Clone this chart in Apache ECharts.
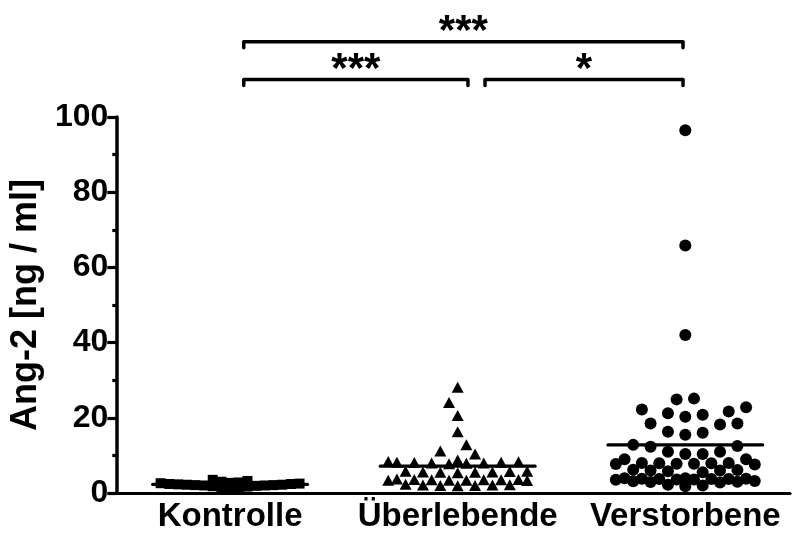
<!DOCTYPE html>
<html>
<head>
<meta charset="utf-8">
<script src="https://cdn.jsdelivr.net/npm/echarts@6/dist/echarts.min.js"></script>
<style>
  html, body { margin: 0; padding: 0; background: #fff; }
  #chart { width: 795px; height: 533px; }
</style>
</head>
<body>
<div id="chart"></div>
<script>
// Groups on the x axis
const groups = ['Kontrolle', 'Überlebende', 'Verstorbene'];

// Ang-2 concentrations per patient (ng/ml)
const kontrolle = [3.5, 3.0, 2.8, 2.6, 2.5, 2.4, 2.3, 2.2, 2.2, 2.1, 2.0,
                   2.0, 1.9, 1.8, 1.7, 1.6, 2.7, 3.2, 2.4, 2.1, 1.5, 1.4];
const ueberlebende = [28.1, 24.1, 20.6, 16.3, 12.8, 11.2, 10.4, 8.8,
                      8.2, 8.0, 8.3, 7.9, 8.1, 8.0, 8.2, 7.8, 8.4,
                      5.8, 5.5, 5.6, 5.4, 5.7, 5.6, 5.5, 5.8,
                      3.6, 3.4, 3.5, 3.7, 3.3, 3.5, 3.6, 3.4, 3.5, 3.4,
                      2.2, 2.0, 2.1, 1.9, 2.3, 2.0, 2.1];
const verstorbene = [96.5, 65.8, 42.0,
                     25.1, 24.9, 22.8, 22.2, 21.7, 21.2, 20.8, 20.3,
                     18.5, 18.5, 18.2, 16.3, 16.0, 15.5,
                     12.8, 12.5, 12.3, 11.0, 11.0, 10.4, 10.4, 9.0, 9.0,
                     8.0, 7.9, 7.8, 7.7, 7.8, 7.9, 8.0, 7.6,
                     6.2, 6.0, 6.1, 5.8, 6.0, 5.5,
                     3.8, 3.7, 3.6, 3.9, 3.7, 3.8, 3.6, 3.7, 3.5, 3.9,
                     3.0, 2.8, 3.1, 2.9, 3.2,
                     2.0, 1.8, 2.2];

// y axis ticks
const yTicks = [0, 20, 40, 60, 80, 100];

// Significance brackets between groups
const bracketLabels = ['***', '***', '*'];
const bracketPairs = [[0, 2], [0, 1], [1, 2]];

// ---- layout ---------------------------------------------------------------
const GRID = { left: 115, right: 5, top: 117, bottom: 40 };
const X_MIN = -0.5, X_MAX = 2.46;
const PX_PER_X = (795 - GRID.left - GRID.right) / (X_MAX - X_MIN);
const PX_PER_Y = (533 - GRID.top - GRID.bottom) / (yTicks[yTicks.length - 1] - yTicks[0]);
const FONT = '"Liberation Sans", Arial, sans-serif';

// bracket geometry: x extents (axis units), height (value units)
const bracketGeom = [
  { x0: 0.06, x1: 1.99, y: 120 },
  { x0: 0.06, x1: 1.045, y: 110 },
  { x0: 1.12, x1: 1.99, y: 110 }
];

// Spread points of one group sideways so that markers do not pile up.
// Vertical distances are shrunk by yFactor so that nearby values sit side by side.
function swarm(values, centre, opt) {
  const order = values.map((v, i) => i).sort((a, b) => values[a] - values[b]);
  const placed = [];
  const out = new Array(values.length);
  let flip = 1;
  order.forEach(i => {
    const py = values[i] * PX_PER_Y;
    let chosen = null, bestX = 0, bestD = -1;
    for (let k = 0; k <= opt.maxSteps && chosen === null; k++) {
      const signs = k === 0 ? [1] : [flip, -flip];
      for (const s of signs) {
        const px = s * k * opt.step;
        let minD = Infinity;
        for (const p of placed) {
          const d = Math.hypot(p.x - px, (p.y - py) / opt.yFactor);
          if (d < minD) minD = d;
        }
        if (minD >= opt.minDist) { chosen = px; break; }
        if (minD > bestD) { bestD = minD; bestX = px; }
      }
    }
    if (chosen === null) chosen = bestX;
    if (chosen !== 0) flip = -Math.sign(chosen);
    placed.push({ x: chosen, y: py });
    out[i] = [centre + chosen / PX_PER_X, values[i]];
  });
  return out;
}

const mean = arr => arr.reduce((a, b) => a + b, 0) / arr.length;
const groupValues = [kontrolle, ueberlebende, verstorbene];
const means = groupValues.map(mean);

const chart = echarts.init(document.getElementById('chart'), null, { renderer: 'canvas' });

const pointSeries = [
  { vals: kontrolle, symbol: 'rect', size: 10, opt: { step: 8.7, minDist: 8.5, maxSteps: 8, yFactor: 1.3 } },
  { vals: ueberlebende, symbol: 'triangle', size: [12, 11], opt: { step: 8.7, minDist: 10, maxSteps: 8, yFactor: 1.6 } },
  { vals: verstorbene, symbol: 'circle', size: 12, opt: { step: 8.7, minDist: 11, maxSteps: 8, yFactor: 1.6 } }
].map((g, gi) => ({
  type: 'scatter',
  name: groups[gi],
  symbol: g.symbol,
  symbolSize: g.size,
  itemStyle: { color: '#000', opacity: 1 },
  data: swarm(g.vals, gi, g.opt),
  z: 2,
  silent: true
}));

const meanSeries = {
  type: 'custom',
  name: 'Mittelwert',
  data: means.map((m, i) => [i, m]),
  renderItem: (params, api) => {
    const i = api.value(0), m = api.value(1);
    const a = api.coord([i - 0.34, m]);
    const b = api.coord([i + 0.34, m]);
    return {
      type: 'line',
      shape: { x1: a[0], y1: a[1], x2: b[0], y2: b[1] },
      style: { stroke: '#000', lineWidth: 3.2, lineCap: 'round' }
    };
  },
  z: 5,
  silent: true
};

chart.setOption({
  animation: false,
  backgroundColor: '#fff',
  grid: GRID,
  xAxis: {
    type: 'value',
    min: X_MIN,
    max: X_MAX,
    splitLine: { show: false },
    axisLine: { show: true, onZero: false, lineStyle: { color: '#000', width: 3.2 } },
    axisTick: { show: false },
    axisLabel: {
      customValues: [0, 1, 2],
      formatter: v => groups[Math.round(v)] || '',
      color: '#000',
      fontFamily: FONT,
      fontWeight: 'bold',
      fontSize: 33,
      margin: 7
    }
  },
  yAxis: {
    type: 'value',
    min: 0,
    max: 100,
    interval: 20,
    name: 'Ang-2 [ng / ml]',
    nameLocation: 'middle',
    nameGap: 70,
    nameTextStyle: { color: '#000', fontFamily: FONT, fontWeight: 'bold', fontSize: 36 },
    splitLine: { show: false },
    axisLine: { show: true, onZero: false, lineStyle: { color: '#000', width: 3.5 } },
    axisTick: { show: true, length: 9, lineStyle: { color: '#000', width: 3.2 } },
    minorTick: { show: true, splitNumber: 2, length: 4, lineStyle: { color: '#000', width: 3.2 } },
    axisLabel: {
      color: '#000',
      fontFamily: FONT,
      fontWeight: 'bold',
      fontSize: 32,
      margin: 8
    }
  },
  series: pointSeries.concat([meanSeries])
});

// Significance brackets drawn above the plot area
const elements = [];
bracketGeom.forEach((g, bi) => {
  const p0 = chart.convertToPixel({ gridIndex: 0 }, [g.x0, g.y]);
  const p1 = chart.convertToPixel({ gridIndex: 0 }, [g.x1, g.y]);
  const drop = 6;
  elements.push({
    type: 'polyline',
    shape: { points: [[p0[0], p0[1] + drop], [p0[0], p0[1]], [p1[0], p1[1]], [p1[0], p1[1] + drop]] },
    style: { stroke: '#000', lineWidth: 3.5, fill: null, lineCap: 'round', lineJoin: 'round' },
    silent: true
  });
  elements.push({
    type: 'text',
    x: (p0[0] + p1[0]) / 2,
    y: p0[1] - 9,
    style: {
      text: bracketLabels[bi],
      fill: '#000',
      font: 'bold 42px ' + FONT,
      textAlign: 'center',
      textVerticalAlign: 'middle'
    },
    silent: true
  });
});
chart.setOption({ graphic: elements });
</script>
</body>
</html>
